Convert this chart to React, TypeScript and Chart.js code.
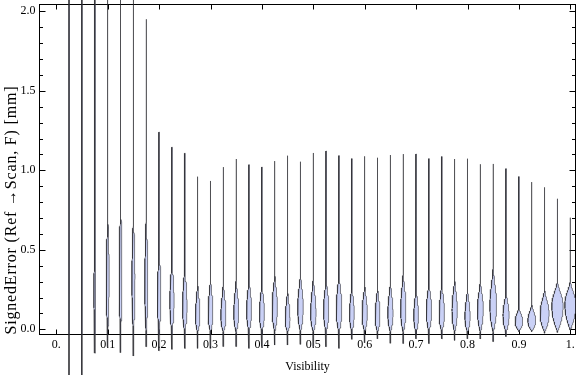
import React, { useEffect, useRef } from "react";
import { Chart, registerables } from "chart.js";

Chart.register(...registerables);

// ---------------- DATA ----------------
const VISIBILITY = [
  0.025, 0.05, 0.075, 0.1, 0.125, 0.15, 0.175, 0.2, 0.225, 0.25,
  0.275, 0.3, 0.325, 0.35, 0.375, 0.4, 0.425, 0.45, 0.475, 0.5,
  0.525, 0.55, 0.575, 0.6, 0.625, 0.65, 0.675, 0.7, 0.725, 0.75,
  0.775, 0.8, 0.825, 0.85, 0.875, 0.9, 0.925, 0.95, 0.975, 1.0,
];

// lowest / highest signed error in each visibility bin [mm]
const ERR_MIN = [
  -0.36, -0.34, -0.15, -0.11, -0.147, -0.168, -0.11, -0.135, -0.126, -0.12,
  -0.12, -0.12, -0.109, -0.109, -0.12, -0.109, -0.099, -0.099, -0.095, -0.109,
  -0.11, -0.12, -0.063, -0.085, -0.06, -0.088, -0.09, -0.06, -0.09, -0.06,
  -0.07, -0.06, -0.061, -0.078, -0.046, -0.015, -0.015, -0.025, -0.02, -0.005,
];
const ERR_MAX = [
  2.9, 2.7, 2.5, 2.6, 2.4, 2.3, 1.95, 1.24, 1.145, 1.107,
  0.96, 0.933, 1.02, 1.071, 1.035, 1.02, 1.058, 1.092, 1.054, 1.109,
  1.121, 1.092, 1.073, 1.088, 1.079, 1.096, 1.102, 1.102, 1.073, 1.086,
  1.071, 1.073, 1.038, 1.04, 1.01, 0.96, 0.926, 0.893, 0.821, 0.702,
];
// where the bulk of the distribution starts, peaks and ends [mm]
const BULK_LOW = [
  -0.02, -0.02, -0.02, -0.02, -0.02, -0.02, -0.02, -0.02, -0.02, -0.02,
  -0.02, -0.02, -0.02, -0.02, -0.02, -0.02, -0.02, -0.02, -0.02, -0.02,
  -0.02, -0.02, -0.02, -0.02, -0.02, -0.02, -0.02, -0.02, -0.02, -0.02,
  -0.02, -0.02, -0.02, -0.02, -0.02, -0.012, -0.012, -0.018, -0.015, -0.004,
];
const MODE = [
  0.2, 0.3, 0.25, 0.35, 0.4, 0.33, 0.3, 0.2, 0.18, 0.14,
  0.08, 0.1, 0.08, 0.1, 0.12, 0.1, 0.14, 0.06, 0.14, 0.1,
  0.12, 0.12, 0.1, 0.1, 0.08, 0.1, 0.12, 0.08, 0.12, 0.1,
  0.12, 0.08, 0.13, 0.15, 0.09, 0.05, 0.055, 0.1, 0.15, 0.16,
];
const BULK_HIGH = [
  0.7, 0.75, 0.6, 0.78, 0.85, 0.8, 0.8, 0.6, 0.5, 0.46,
  0.33, 0.36, 0.33, 0.35, 0.36, 0.33, 0.38, 0.28, 0.38, 0.36,
  0.36, 0.4, 0.31, 0.31, 0.3, 0.33, 0.4, 0.3, 0.33, 0.33,
  0.35, 0.28, 0.33, 0.42, 0.26, 0.15, 0.17, 0.27, 0.32, 0.32,
];
// peak density, expressed as violin half-width in visibility units
const DENSITY_PEAK = [
  0.001, 0.0015, 0.0021, 0.003, 0.0028, 0.0031, 0.0031, 0.0035, 0.0042, 0.0045,
  0.0044, 0.0047, 0.005, 0.0049, 0.0049, 0.0049, 0.0052, 0.0047, 0.0055, 0.0054,
  0.0052, 0.0055, 0.0047, 0.0052, 0.0047, 0.0052, 0.0052, 0.0047, 0.0052, 0.0052,
  0.0052, 0.0052, 0.0058, 0.0066, 0.006, 0.0075, 0.0077, 0.0088, 0.0111, 0.0107,
];

const X_TICKS = [0, 0.1, 0.2, 0.3, 0.4, 0.5, 0.6, 0.7, 0.8, 0.9, 1.0];
const X_TICK_LABELS = ["0.", "0.1", "0.2", "0.3", "0.4", "0.5", "0.6", "0.7", "0.8", "0.9", "1."];
const Y_TICKS = [0, 0.5, 1.0, 1.5, 2.0];
const Y_TICK_LABELS = ["0.0", "0.5", "1.0", "1.5", "2.0"];
const Y_MINOR_TICKS = [
  0.1, 0.2, 0.3, 0.4, 0.6, 0.7, 0.8, 0.9, 1.1, 1.2, 1.3, 1.4, 1.6, 1.7, 1.8, 1.9,
];

const X_TITLE = "Visibility";
const Y_TITLE = "SignedError (Ref \u2192Scan, F) [mm]";

// ---------------- STYLE ----------------
const X_MIN = -0.0327;
const X_MAX = 1.0101;
const Y_MIN = -0.0327;
const Y_MAX = 2.0428;
const THIN = 0.0004;
const FILL = "rgb(202, 209, 246)";
const STROKE = "rgba(35, 35, 40, 0.55)";
const FONT = "'Liberation Serif', 'Times New Roman', serif";

function halfWidth(i: number, y: number): number {
  const lo = Math.max(BULK_LOW[i], ERR_MIN[i]);
  const hi = Math.min(BULK_HIGH[i], ERR_MAX[i]);
  const mode = MODE[i];
  const peak = DENSITY_PEAK[i];
  let w = 0;
  if (y >= lo && y <= mode) {
    const t = (y - lo) / (mode - lo);
    w = peak * (1 - (1 - t) * (1 - t));
  } else if (y > mode && y <= hi) {
    const u = (y - mode) / (hi - mode);
    w = (peak * (1 + Math.cos(Math.PI * u))) / 2;
  }
  return Math.max(w, THIN);
}

function levels(i: number): number[] {
  const lo = Math.max(BULK_LOW[i], ERR_MIN[i]);
  const hi = Math.min(BULK_HIGH[i], ERR_MAX[i]);
  const ys = [ERR_MIN[i]];
  const N = 60;
  for (let j = 0; j <= N; j++) ys.push(lo + ((hi - lo) * j) / N);
  ys.push(ERR_MAX[i]);
  return ys;
}

const framePlugin = {
  id: "mmaFrame",
  beforeDatasetsDraw(chart: any) {
    const { ctx, chartArea: a, scales } = chart;
    const xs = scales.x;
    const ys = scales.y;
    ctx.save();
    ctx.strokeStyle = "#000";
    ctx.lineWidth = 1;
    ctx.strokeRect(a.left, a.top, a.right - a.left, a.bottom - a.top);
    ctx.beginPath();
    const yTick = (v: number, len: number) => {
      const p = Math.round(ys.getPixelForValue(v)) + 0.5;
      ctx.moveTo(a.left, p);
      ctx.lineTo(a.left + len, p);
      ctx.moveTo(a.right, p);
      ctx.lineTo(a.right - len, p);
    };
    Y_TICKS.forEach((v) => yTick(v, 6));
    Y_MINOR_TICKS.forEach((v) => yTick(v, 3.5));
    X_TICKS.forEach((v) => {
      const p = Math.round(xs.getPixelForValue(v)) + 0.5;
      ctx.moveTo(p, a.bottom);
      ctx.lineTo(p, a.bottom - 5);
      ctx.moveTo(p, a.top);
      ctx.lineTo(p, a.top + 5);
    });
    ctx.stroke();
    ctx.restore();
  },
  afterDraw(chart: any) {
    const { ctx } = chart;
    ctx.save();
    ctx.translate(12, 210.5);
    ctx.rotate(-Math.PI / 2);
    ctx.font = "16px " + FONT;
    ctx.fillStyle = "#000";
    ctx.textAlign = "left";
    ctx.textBaseline = "middle";
    const total = 249;
    const w = ctx.measureText(Y_TITLE).width;
    let spacing = 0;
    if ("letterSpacing" in ctx) {
      spacing = Math.max(0, (total - w) / Y_TITLE.length);
      (ctx as any).letterSpacing = spacing.toFixed(2) + "px";
    }
    const w2 = ctx.measureText(Y_TITLE).width;
    ctx.fillText(Y_TITLE, -(w2 - spacing) / 2, 0);
    ctx.restore();
  },
};

export default function App() {
  const ref = useRef<HTMLCanvasElement>(null);
  useEffect(() => {
    const canvas = ref.current;
    if (!canvas) return;
    const datasets = VISIBILITY.map((pos, i) => {
      const ys = levels(i);
      const right = ys.map((y) => ({ x: pos + halfWidth(i, y), y }));
      const left = ys
        .slice()
        .reverse()
        .map((y) => ({ x: pos - halfWidth(i, y), y }));
      return {
        label: "v" + pos,
        data: [...right, ...left],
        showLine: true,
        fill: "shape",
        backgroundColor: FILL,
        borderColor: STROKE,
        borderWidth: 1,
        borderJoinStyle: "round",
        pointRadius: 0,
        pointHoverRadius: 0,
        tension: 0,
        clip: false,
      };
    });
    const tickFont = { family: FONT, size: 12 };
    const chart = new Chart(canvas, {
      type: "scatter",
      data: { datasets: datasets as any },
      options: {
        animation: false,
        responsive: false,
        devicePixelRatio: 1,
        events: [],
        layout: { padding: { left: 0, right: 0.5, top: 4.5, bottom: 0 } },
        plugins: { legend: { display: false }, tooltip: { enabled: false } },
        scales: {
          x: {
            type: "linear",
            min: X_MIN,
            max: X_MAX,
            afterBuildTicks: (s: any) => {
              s.ticks = X_TICKS.map((v) => ({ value: v }));
            },
            afterFit: (s: any) => {
              s.height = 40.5;
              s.paddingLeft = 0;
              s.paddingRight = 0;
            },
            ticks: {
              callback: (_v: any, idx: number) => X_TICK_LABELS[idx],
              autoSkip: false,
              maxRotation: 0,
              minRotation: 0,
              padding: 3,
              color: "#000",
              font: tickFont,
            },
            grid: { display: false, drawTicks: false },
            border: { display: false },
            title: {
              display: true,
              text: X_TITLE,
              color: "#000",
              font: tickFont,
              padding: { top: 0, bottom: 1 },
            },
          },
          y: {
            type: "linear",
            min: Y_MIN,
            max: Y_MAX,
            afterBuildTicks: (s: any) => {
              s.ticks = Y_TICKS.map((v) => ({ value: v }));
            },
            afterFit: (s: any) => {
              s.width = 39.5;
              s.paddingTop = 0;
              s.paddingBottom = 0;
            },
            ticks: {
              callback: (_v: any, idx: number) => Y_TICK_LABELS[idx],
              autoSkip: false,
              padding: 4,
              color: "#000",
              font: tickFont,
            },
            grid: { display: false, drawTicks: false },
            border: { display: false },
          },
        },
      } as any,
      plugins: [framePlugin],
    });
    return () => chart.destroy();
  }, []);
  return (
    <canvas
      ref={ref}
      width={576}
      height={375}
      style={{ position: "fixed", left: 0, top: 0, width: 576, height: 375 }}
    />
  );
}
